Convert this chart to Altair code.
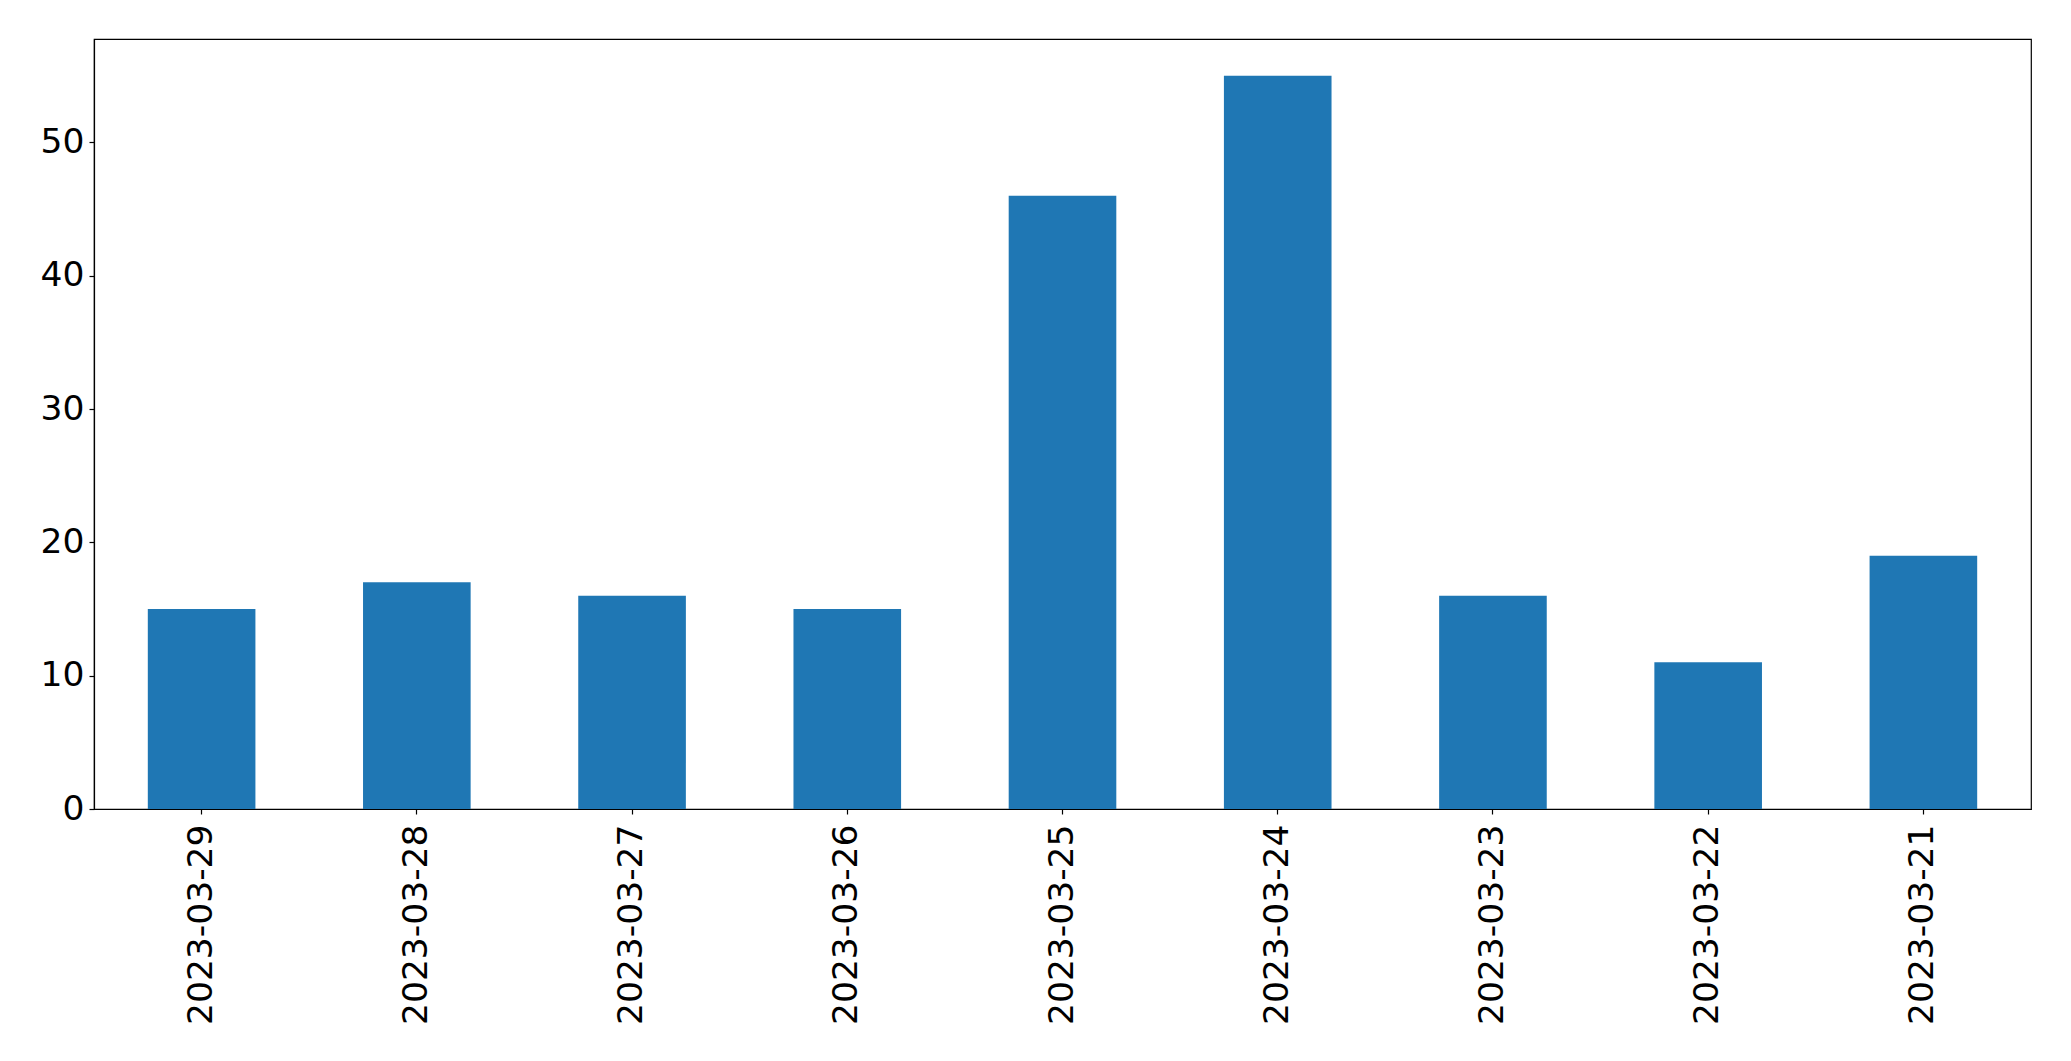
import altair as alt
import pandas as pd

dates = ["2023-03-29", "2023-03-28", "2023-03-27", "2023-03-26", "2023-03-25",
         "2023-03-24", "2023-03-23", "2023-03-22", "2023-03-21"]
counts = [15, 17, 16, 15, 46, 55, 16, 11, 19]

df = pd.DataFrame({"date": dates, "count": counts})

chart = alt.Chart(df).mark_bar(color="#1f77b4").encode(
    x=alt.X("date:N", sort=dates, title=None,
            scale=alt.Scale(paddingInner=0.5, paddingOuter=0.25),
            axis=alt.Axis(labelAngle=270, labelAlign="right", labelBaseline="middle",
                          labelFontSize=34.5, labelFont="DejaVu Sans", labelColor="black",
                          labelPadding=10, labelLimit=400, tickSize=5, tickColor="black",
                          domainColor="black", grid=False)),
    y=alt.Y("count:Q", title=None,
            scale=alt.Scale(domain=[0, 57.75], nice=False, zero=True),
            axis=alt.Axis(values=[0, 10, 20, 30, 40, 50], labelFontSize=34.5,
                          labelFont="DejaVu Sans", labelColor="black", labelPadding=5,
                          tickSize=5, tickColor="black", domainColor="black", grid=False)),
).properties(
    width=1937, height=770,
    autosize=alt.AutoSizeParams(type="none"),
    padding={"left": 86, "top": 31, "right": 32, "bottom": 244},
).configure_view(stroke="black", strokeWidth=1.2
).configure_axis(domainWidth=1.2, tickWidth=1.2)

chart.save("out.html", embed_options={"renderer": "svg", "actions": False})
